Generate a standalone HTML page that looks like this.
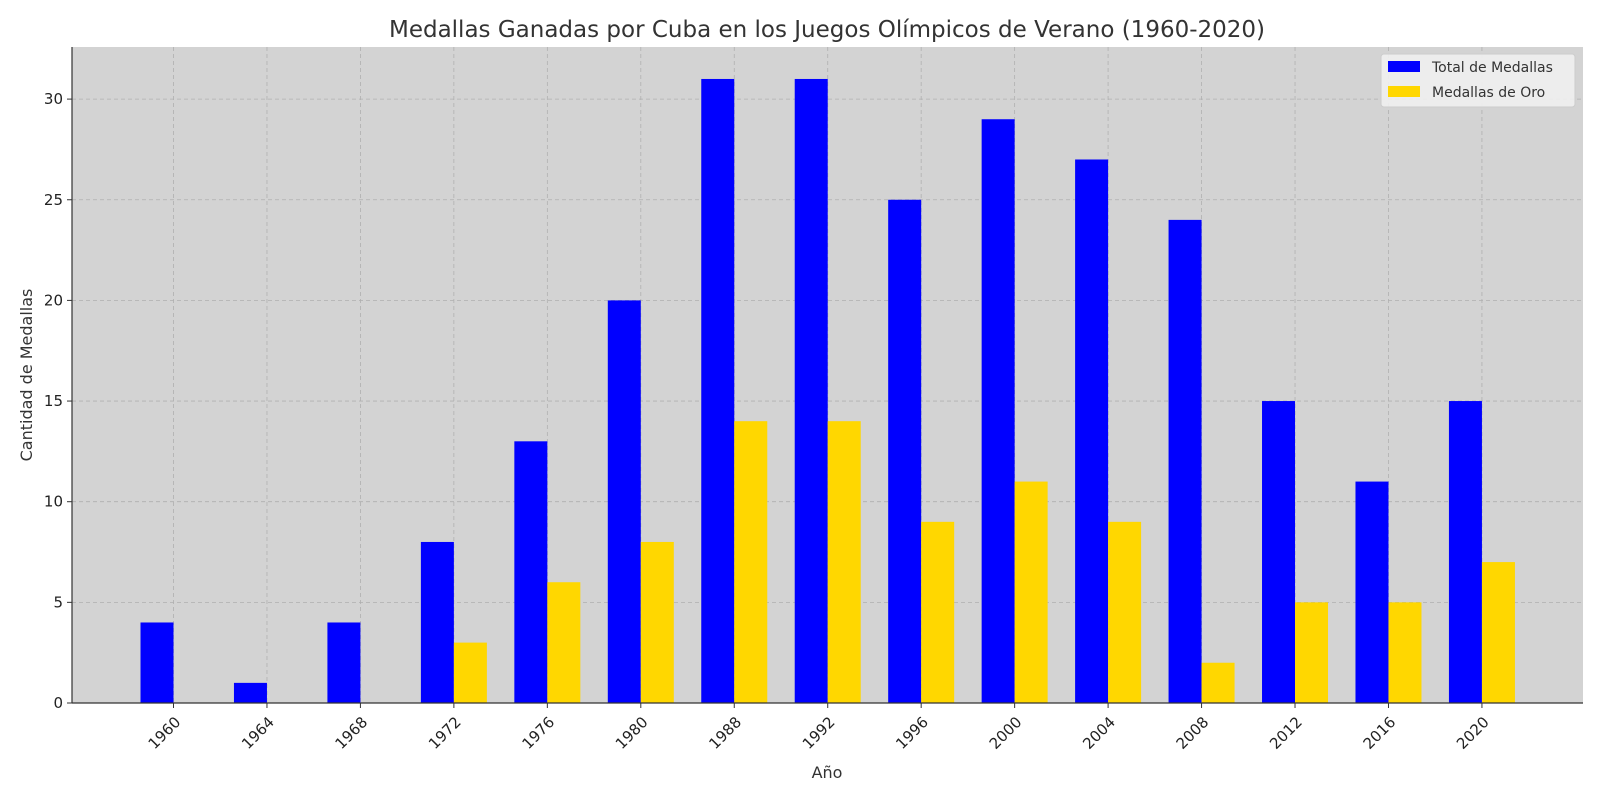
<!DOCTYPE html>
<html><head><meta charset="utf-8"><style>
body{margin:0;background:#fff;}
svg text{font-family:"DejaVu Sans","Liberation Sans",sans-serif;}
</style></head><body>
<svg width="1600" height="800" viewBox="0 0 1600 800">
<rect x="72" y="47" width="1511" height="656" fill="#d3d3d3"/>
<g id="grid"></g><g id="bars"></g><g id="axes"></g>
<text x="827" y="37" font-size="23" text-anchor="middle" fill="#333">Medallas Ganadas por Cuba en los Juegos Olímpicos de Verano (1960-2020)</text>
<text x="827" y="778" font-size="16" text-anchor="middle" fill="#333">Año</text>
<text transform="translate(32,375) rotate(-90)" font-size="16" text-anchor="middle" fill="#333">Cantidad de Medallas</text>
<g>
<rect x="1381" y="54" width="194" height="53" rx="3" fill="#f0f0f0" fill-opacity="0.9" stroke="#ccc"/>
<rect x="1388" y="61" width="32" height="11" fill="#0000ff"/>
<text x="1432" y="72" font-size="14" fill="#333">Total de Medallas</text>
<rect x="1388" y="86" width="32" height="11" fill="#ffd700"/>
<text x="1432" y="97" font-size="14" fill="#333">Medallas de Oro</text>
</g>
</svg>
<script>
const years=["1960","1964","1968","1972","1976","1980","1988","1992","1996","2000","2004","2008","2012","2016","2020"];
const totals=[4,1,4,8,13,20,31,31,25,29,27,24,15,11,15];
const golds=[0,0,0,3,6,8,14,14,9,11,9,2,5,5,7];
const yTicks=[0,5,10,15,20,25,30];
const NS="http://www.w3.org/2000/svg";
const L=72,R=1583,T=47,B=703;
const x0=173.5,dx=93.46,bw=33;
function xs(i){return x0+i*dx;}
function ys(v){return B-v*20.13;}
function mk(tag,attrs,parent){const e=document.createElementNS(NS,tag);for(const k in attrs)e.setAttribute(k,attrs[k]);parent.appendChild(e);return e;}
const grid=document.getElementById('grid'),bars=document.getElementById('bars'),axes=document.getElementById('axes');
yTicks.forEach(v=>{
 const y=ys(v);
 const g=mk('line',{x1:L,x2:R,y1:y,y2:y,stroke:'#b0b0b0','stroke-dasharray':'4,3','stroke-width':0.8},grid);
 
 
 mk('line',{x1:L-5,x2:L,y1:y,y2:y,stroke:'#333'},axes);
 const t=mk('text',{x:L-9,y:y+5,'font-size':15,'text-anchor':'end',fill:'#222'},axes);
 t.textContent=v;
 
 
});
years.forEach((yr,i)=>{
 const x=xs(i);
 const g=mk('line',{x1:x,x2:x,y1:T,y2:B,stroke:'#b0b0b0','stroke-dasharray':'4,3','stroke-width':0.8},grid);
 
 
 const b1=mk('rect',{x:x-bw,y:ys(totals[i]),width:bw,height:B-ys(totals[i]),fill:'#0000ff'},bars);
 
 
 const b2=mk('rect',{x:x,y:ys(golds[i]),width:bw,height:B-ys(golds[i]),fill:'#ffd700'},bars);
 
 
 mk('line',{x1:x,x2:x,y1:B,y2:B+5,stroke:'#333'},axes);
 const t=mk('text',{transform:`translate(${x+8},${B+20}) rotate(-45)`,'font-size':15,'text-anchor':'end',fill:'#222'},axes);
 t.textContent=yr;
 
 
});
mk('line',{x1:L,x2:L,y1:T,y2:B,stroke:'#333','stroke-width':1.2},axes);
mk('line',{x1:L,x2:R,y1:B,y2:B,stroke:'#333','stroke-width':1.2},axes);
</script>
</body></html>
